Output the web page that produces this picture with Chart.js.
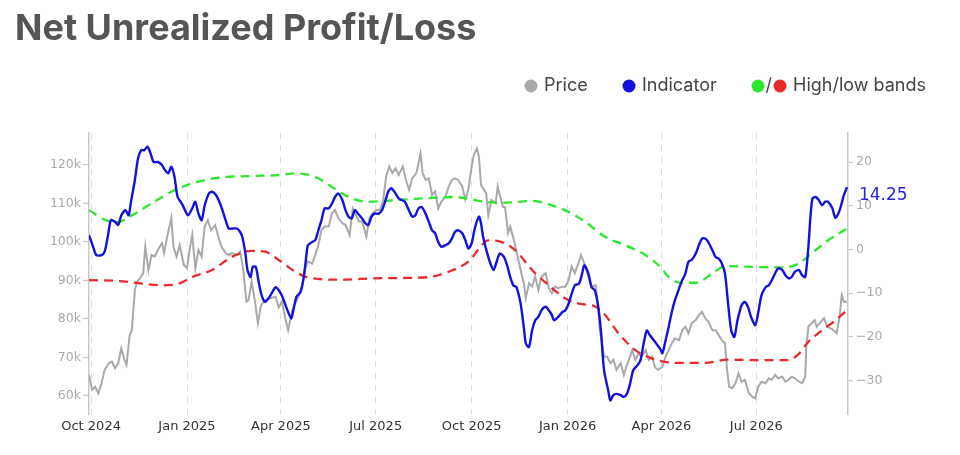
<!DOCTYPE html>
<html>
<head>
<meta charset="utf-8">
<script src="https://cdn.jsdelivr.net/npm/chart.js@4.4.1/dist/chart.umd.min.js"></script>
<style>
  html, body { margin: 0; padding: 0; background: #fff; }
  #wrap { width: 960px; height: 455px; position: relative; }
</style>
</head>
<body>
<div id="wrap"><canvas id="chart"></canvas></div>
<script>
// x values are days since 1 Oct 2024
const tickDays = [0, 92, 182, 273, 365, 457, 547, 638];
const tickLabels = ["Oct 2024", "Jan 2025", "Apr 2025", "Jul 2025", "Oct 2025", "Jan 2026", "Apr 2026", "Jul 2026"];
const priceTicks = [60, 70, 80, 90, 100, 110, 120];
const indicatorTicks = [-30, -20, -10, 0, 10, 20];

// price in thousands of dollars
const priceDays = [
  -2, 1, 4, 7, 10, 13, 17, 20, 23, 26,
  29, 32, 34, 37, 39, 42, 44, 47, 50, 52,
  55, 58, 61, 64, 68, 70, 73, 77, 79, 82,
  85, 89, 92, 95, 97, 100, 103, 106, 109, 112,
  115, 119, 122, 125, 129, 132, 135, 140, 143, 146,
  149, 151, 154, 157, 160, 163, 167, 172, 177, 180,
  183, 186, 189, 193, 196, 199, 202, 205, 208, 212,
  215, 218, 221, 224, 228, 231, 234, 237, 241, 244,
  248, 251, 254, 257, 260, 264, 267, 270, 274, 277,
  280, 283, 286, 289, 292, 295, 299, 302, 305, 308,
  312, 314, 316, 318, 321, 324, 327, 330, 333, 336,
  340, 343, 346, 349, 352, 356, 359, 362, 365, 367,
  370, 372, 374, 376, 379, 381, 384, 388, 390, 392,
  395, 397, 400, 402, 405, 408, 412, 415, 417, 420,
  423, 426, 429, 432, 436, 439, 442, 445, 448, 452,
  455, 458, 461, 464, 468, 470, 473, 477, 480, 484,
  487, 488, 492, 495, 498, 501, 504, 508, 511, 514,
  517, 519, 522, 525, 528, 532, 535, 538, 541, 544,
  548, 551, 554, 557, 560, 564, 567, 570, 573, 576,
  580, 583, 586, 589, 592, 596, 599, 602, 605, 608,
  610, 612, 615, 618, 621, 624, 627, 631, 634, 637,
  640, 643, 647, 650, 653, 656, 659, 663, 666, 669,
  672, 675, 679, 682, 685, 686, 688, 691, 694, 696,
  699, 703, 706, 709, 712, 715, 718, 720, 722, 725
];
const priceK = [
  65.5, 61.6, 62.4, 60.7, 63.3, 66.8, 68.5, 68.9, 67.2, 68.5,
  72.4, 69.4, 68.1, 75.8, 77.1, 87.5, 89.7, 90.6, 91.9, 98.8,
  92.7, 96.6, 96.2, 97.9, 99.7, 97.1, 101.4, 106.2, 98.8, 96.2,
  99.2, 94.0, 93.2, 98.8, 101.8, 93.2, 97.9, 96.2, 104.0, 105.7,
  103.1, 104.4, 101.4, 98.8, 97.1, 96.6, 97.1, 96.6, 97.5, 92.7,
  84.5, 84.9, 89.7, 84.9, 78.9, 83.6, 84.9, 85.4, 85.8, 83.0,
  84.5, 80.6, 77.1, 82.3, 84.1, 85.8, 88.4, 92.7, 94.9, 94.4,
  96.6, 99.2, 103.1, 104.0, 104.0, 107.5, 108.3, 106.2, 104.9, 104.4,
  101.8, 108.7, 107.0, 105.3, 105.3, 101.4, 106.2, 107.5, 108.3, 108.3,
  110.5, 117.0, 119.6, 117.9, 119.1, 117.4, 119.6, 116.1, 113.5, 116.5,
  117.9, 120.4, 123.0, 117.9, 116.1, 116.5, 112.2, 113.1, 108.7, 110.5,
  111.8, 114.4, 116.1, 116.5, 116.1, 114.4, 111.0, 113.9, 119.6, 122.6,
  124.3, 122.2, 114.8, 113.9, 112.6, 107.0, 110.9, 110.1, 114.4, 112.2,
  109.1, 109.1, 102.3, 104.0, 101.0, 97.5, 92.7, 89.3, 85.4, 89.3,
  88.4, 91.0, 87.5, 91.0, 91.9, 88.0, 86.7, 88.4, 88.0, 88.4,
  88.4, 90.1, 93.6, 91.9, 94.9, 96.6, 94.4, 91.0, 88.4, 88.8,
  80.6, 77.1, 70.2, 70.2, 68.5, 69.4, 66.8, 68.5, 65.5, 68.1,
  70.2, 71.9, 69.4, 71.1, 70.2, 71.9, 69.4, 70.2, 67.4, 66.8,
  67.6, 70.2, 71.9, 73.7, 75.0, 74.5, 77.1, 78.0, 76.3, 78.9,
  79.7, 81.0, 81.9, 80.2, 79.3, 77.1, 77.1, 75.8, 74.5, 73.7,
  66.8, 62.4, 62.0, 63.3, 65.9, 63.7, 64.2, 60.7, 59.8, 59.4,
  62.4, 63.7, 63.3, 64.6, 64.2, 65.5, 64.6, 65.0, 63.7, 64.2,
  65.0, 64.6, 63.7, 63.3, 65.0, 72.8, 78.0, 78.9, 79.7, 78.0,
  78.9, 80.2, 78.0, 77.6, 77.1, 76.3, 80.6, 86.2, 84.5, 84.5
];

const indicatorDays = [
  -2, 2, 5, 10, 13, 16, 19, 23, 26, 29,
  33, 36, 38, 42, 45, 48, 51, 54, 57, 60,
  64, 68, 71, 74, 77, 80, 83, 87, 90, 93,
  97, 100, 103, 106, 109, 113, 116, 120, 123, 126,
  129, 132, 136, 140, 143, 145, 148, 150, 153, 155,
  158, 161, 164, 167, 170, 173, 177, 180, 183, 186,
  189, 192, 194, 197, 201, 204, 206, 208, 212, 215,
  218, 221, 224, 228, 231, 234, 237, 241, 244, 247,
  250, 253, 256, 260, 263, 266, 269, 272, 276, 279,
  282, 285, 288, 292, 295, 298, 301, 304, 308, 311,
  314, 317, 320, 324, 327, 330, 333, 336, 340, 343,
  346, 349, 352, 356, 359, 362, 365, 368, 372, 374,
  376, 380, 383, 386, 389, 392, 396, 399, 402, 405,
  408, 412, 415, 417, 420, 423, 426, 429, 432, 436,
  439, 442, 444, 448, 452, 455, 458, 461, 464, 468,
  471, 473, 477, 480, 483, 486, 489, 492, 496, 498,
  501, 504, 508, 511, 514, 517, 520, 524, 527, 530,
  533, 536, 540, 543, 546, 548, 551, 554, 557, 560,
  564, 567, 570, 573, 576, 580, 583, 586, 589, 592,
  596, 599, 602, 605, 608, 611, 614, 617, 620, 624,
  627, 630, 633, 637, 640, 643, 647, 650, 653, 656,
  659, 663, 666, 669, 672, 675, 679, 682, 685, 688,
  690, 692, 695, 698, 701, 704, 707, 711, 714,
  718, 722, 725
];
const indicator = [
  3.3, 0.6, -1.3, -1.3, -0.5, 2.9, 6.7, 6.3, 5.6, 7.8,
  9.0, 7.8, 10.5, 15.9, 20.8, 22.7, 22.7, 23.5, 22.0, 20.0,
  20.0, 19.3, 18.1, 17.4, 18.9, 16.6, 12.0, 10.5, 9.0, 7.8,
  9.4, 10.9, 8.2, 6.7, 10.1, 12.8, 13.2, 12.4, 10.9, 9.0,
  6.7, 4.8, 4.8, 4.8, 4.0, 2.9, -0.9, -4.7, -6.3, -4.0,
  -4.0, -7.8, -10.8, -12.0, -11.2, -10.1, -8.6, -9.3, -10.5, -12.4,
  -14.3, -15.8, -13.9, -10.8, -9.7, -6.3, -2.4, 1.0, 1.7, 2.1,
  4.4, 6.7, 9.4, 9.4, 10.5, 12.0, 12.8, 11.3, 9.0, 7.5,
  7.1, 9.0, 8.2, 7.1, 6.0, 5.6, 7.5, 8.2, 8.2, 9.0,
  10.9, 13.2, 14.0, 12.8, 11.7, 11.3, 10.9, 9.4, 7.5, 7.8,
  9.4, 9.7, 8.6, 6.3, 4.4, 3.7, 1.7, 0.6, 1.0, 1.4,
  2.5, 4.0, 4.4, 3.7, 2.1, 0.2, 1.4, 4.8, 7.5, 6.0,
  2.9, -0.9, -3.2, -4.7, -2.8, -0.9, -1.7, -3.6, -6.3, -8.2,
  -8.6, -12.4, -17.7, -21.5, -22.3, -18.5, -16.2, -15.4, -13.9, -13.1,
  -13.9, -15.0, -16.2, -15.4, -14.3, -13.9, -12.4, -10.1, -8.2, -7.8,
  -5.5, -3.6, -5.5, -8.6, -9.3, -12.4, -18.5, -27.6, -32.2, -34.5,
  -33.3, -33.0, -33.3, -33.7, -33.0, -30.7, -27.6, -26.5, -25.3, -21.5,
  -18.5, -19.6, -20.8, -21.8, -22.8, -23.7, -20.8, -17.7, -14.3, -11.6,
  -8.9, -7.0, -5.5, -2.8, -2.4, -0.9, 1.0, 2.5, 2.5, 1.7,
  -0.2, -1.7, -2.1, -3.2, -5.5, -12.4, -18.5, -20.0, -16.2, -12.7,
  -12.0, -13.1, -15.4, -17.3, -14.3, -10.5, -8.6, -8.2, -7.0, -5.5,
  -4.3, -4.7, -5.9, -6.6, -6.3, -5.1, -4.7, -5.9, -6.3, 0.6,
  7.5, 11.7, 12.0, 11.3, 10.1, 10.9, 10.9, 9.4, 7.2,
  9.0, 12.4, 14.25
];

const highDays = [-2, 14, 26, 39, 58, 77, 97, 122, 154, 180, 196, 215, 231, 247, 266, 292, 320, 349, 359, 378,
  397, 423, 442, 458, 474, 493, 512, 532, 546, 554, 565, 580, 596, 608, 637, 663, 679, 691, 707, 725];
const highBand = [9.0, 6.7, 6.3, 7.8, 10.5, 13.2, 15.1, 16.4, 16.8, 17.0, 17.4, 16.6, 14.3, 12.0, 10.9, 11.3, 11.7, 12.0, 11.7, 10.9,
  10.7, 11.1, 10.1, 8.6, 6.3, 2.9, 1.0, -1.3, -4.0, -6.3, -7.6, -7.6, -5.5, -3.8, -4.0, -4.1, -3.2, -0.9, 2.1, 4.8];

const lowDays = [-2, 26, 49, 68, 84, 97, 116, 135, 154, 167, 180, 196, 208, 240, 272, 304, 324, 343, 364, 372, 381,
  394, 407, 423, 439, 455, 468, 484, 493, 506, 522, 538, 560, 589, 611, 643, 669, 679, 688, 701, 714, 725];
const lowBand = [-7.0, -7.2, -7.8, -8.2, -7.8, -6.3, -4.7, -1.7, -0.3, -0.5, -2.4, -5.1, -6.4, -6.9, -6.6, -6.5, -6.3, -5.1, -2.3, 0.2, 2.1,
  1.7, -0.2, -4.7, -8.2, -11.2, -12.4, -13.1, -15.0, -19.2, -23.0, -24.9, -25.9, -25.9, -25.2, -25.3, -25.3, -23.8, -21.1, -18.5, -16.2, -13.9];

const BLUE = "#1212dc";
const GRAY = "#a9a9a9";
const GREEN = "#2fe62f";
const RED = "#e82a2a";

function pts(xs, ys) {
  return xs.map((x, i) => ({ x: x, y: ys[i] }));
}

// title, legend and last-value label
const decorations = {
  id: "decorations",
  afterDraw(chart) {
    const ctx = chart.ctx;
    ctx.save();
    ctx.fillStyle = "#555";
    ctx.font = "bold 36px Inter, 'Noto Sans', sans-serif";
    ctx.textBaseline = "alphabetic";
    ctx.fillText("Net Unrealized Profit/Loss", 15, 40);

    const ly = 86;
    const dot = (x, c) => {
      ctx.beginPath();
      ctx.arc(x, ly, 6.5, 0, Math.PI * 2);
      ctx.fillStyle = c;
      ctx.fill();
    };
    ctx.font = "18px Inter, 'Noto Sans', sans-serif";
    ctx.textBaseline = "middle";
    dot(531, GRAY);
    ctx.fillStyle = "#444";
    ctx.fillText("Price", 544, ly);
    dot(629, BLUE);
    ctx.fillStyle = "#444";
    ctx.fillText("Indicator", 642, ly);
    dot(758, GREEN);
    ctx.fillStyle = "#444";
    ctx.fillText("/", 765.5, ly);
    dot(780, RED);
    ctx.fillStyle = "#444";
    ctx.fillText("High/low bands", 793, ly);

    const last = indicator[indicator.length - 1];
    const px = chart.scales.x.getPixelForValue(indicatorDays[indicatorDays.length - 1]);
    const py = chart.scales.y1.getPixelForValue(last);
    ctx.font = "17px 'DejaVu Sans', Verdana, sans-serif";
    ctx.fillStyle = "#2626dc";
    ctx.textBaseline = "middle";
    ctx.fillText(last.toFixed(2), px + 12, py + 8);
    ctx.restore();
  }
};

new Chart(document.getElementById("chart"), {
  type: "line",
  data: {
    datasets: [
      {
        label: "Indicator",
        data: pts(indicatorDays, indicator),
        yAxisID: "y1",
        borderColor: BLUE,
        borderWidth: 2.4,
        pointRadius: 0,
        tension: 0.25
      },
      {
        label: "High band",
        data: pts(highDays, highBand),
        yAxisID: "y1",
        borderColor: GREEN,
        borderWidth: 2.3,
        borderDash: [9, 6],
        pointRadius: 0,
        cubicInterpolationMode: "monotone"
      },
      {
        label: "Low band",
        data: pts(lowDays, lowBand),
        yAxisID: "y1",
        borderColor: RED,
        borderWidth: 2.3,
        borderDash: [9, 6],
        pointRadius: 0,
        cubicInterpolationMode: "monotone"
      },
      {
        label: "Price",
        data: pts(priceDays, priceK),
        yAxisID: "y",
        borderColor: GRAY,
        borderWidth: 2,
        pointRadius: 0,
        tension: 0
      }
    ]
  },
  options: {
    responsive: true,
    maintainAspectRatio: false,
    animation: false,
    layout: { padding: { top: 133, left: 0, right: 0, bottom: 0 } },
    plugins: {
      legend: { display: false },
      tooltip: { enabled: false }
    },
    scales: {
      x: {
        type: "linear",
        min: -2,
        max: 726,
        afterBuildTicks: (axis) => { axis.ticks = tickDays.map(v => ({ value: v })); },
        afterFit: (axis) => { axis.height = 41; },
        ticks: {
          autoSkip: false,
          maxRotation: 0,
          padding: 5,
          color: "#333",
          font: { family: "'DejaVu Sans', Verdana, sans-serif", size: 13 },
          callback: (v) => tickLabels[tickDays.indexOf(v)] || ""
        },
        grid: { color: "#dcdcdc", lineWidth: 1, drawTicks: false },
        border: { display: false, dash: [6, 6] }
      },
      y: {
        position: "left",
        min: 55.32,
        max: 128.3,
        afterBuildTicks: (axis) => { axis.ticks = priceTicks.map(v => ({ value: v })); },
        afterFit: (axis) => { axis.width = 89; },
        ticks: {
          padding: 2,
          color: "#aaa",
          font: { family: "'DejaVu Sans', Verdana, sans-serif", size: 12.5 },
          callback: (v) => v + "k"
        },
        grid: { drawOnChartArea: false, drawTicks: true, tickLength: 6, tickColor: "#c8c8c8", tickWidth: 1.2 },
        border: { display: true, color: "#c8c8c8", width: 1.5 }
      },
      y1: {
        position: "right",
        min: -37.61,
        max: 26.63,
        afterBuildTicks: (axis) => { axis.ticks = indicatorTicks.map(v => ({ value: v })); },
        afterFit: (axis) => { axis.width = 112; },
        ticks: {
          padding: 3,
          color: "#aaa",
          font: { family: "'DejaVu Sans', Verdana, sans-serif", size: 12.5 },
          callback: (v) => (v < 0 ? "\u2212" + Math.abs(v) : String(v))
        },
        grid: { drawOnChartArea: false, drawTicks: true, tickLength: 5, tickColor: "#c8c8c8", tickWidth: 1.2 },
        border: { display: true, color: "#c8c8c8", width: 1.5 }
      }
    }
  },
  plugins: [decorations]
});
</script>
</body>
</html>
